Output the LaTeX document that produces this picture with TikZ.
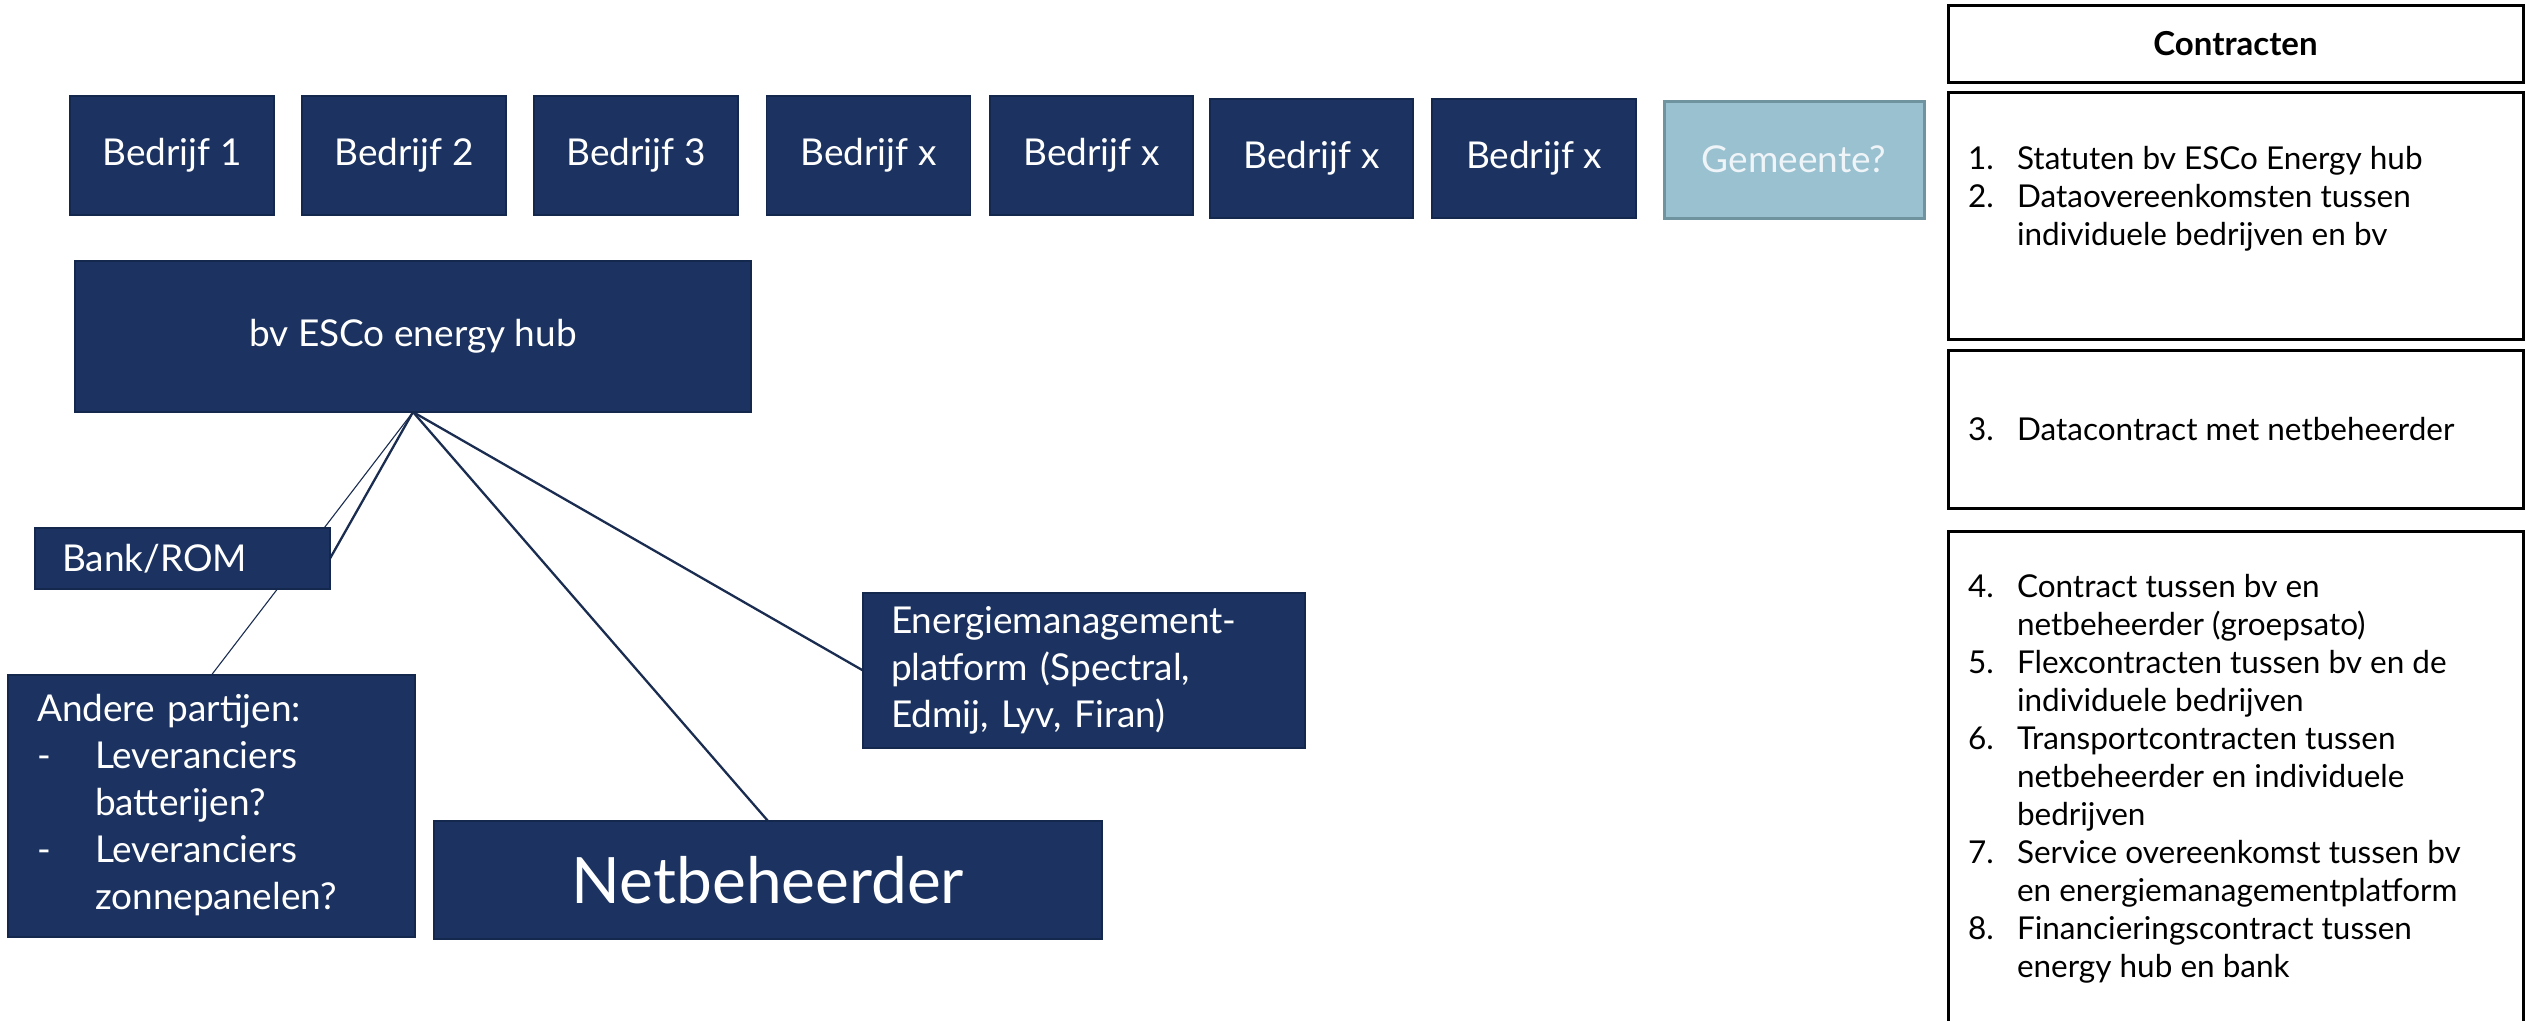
\documentclass[tikz,border=0pt]{standalone}
\usepackage{fontspec}
\setmainfont{Lato}
\usetikzlibrary{backgrounds}
\definecolor{navy}{HTML}{1C3361}
\definecolor{navyedge}{HTML}{14284E}
\definecolor{gem}{HTML}{99C1D0}
\definecolor{gemedge}{HTML}{6F939F}
\definecolor{gemtext}{HTML}{EEF4F7}
\definecolor{linkc}{HTML}{1A2C50}
\begin{document}
\begin{tikzpicture}[x=1pt,y=-1pt,
  navybox/.style={draw=navyedge, line width=1.5pt, fill=navy, text=white, inner sep=0pt, outer sep=0pt, font=\fontsize{37}{47}\selectfont},
  comp/.style={navybox, minimum width=204pt, minimum height=119pt},
  gemstyle/.style={draw=gemedge, line width=3pt, fill=gem, text=gemtext, inner sep=0pt, outer sep=0pt, minimum width=260pt, minimum height=117pt, font=\fontsize{37}{47}\selectfont},
  cbox/.style={draw=black, line width=3pt, inner sep=0pt, outer sep=0pt, minimum width=575pt},
  listtxt/.style={inner sep=0pt, outer sep=0pt, anchor=base west, font=\fontsize{31.5}{38}\selectfont},
  link/.style={draw=linkc, line width=2.3pt},
  thinlink/.style={draw=linkc, line width=1.1pt}
]
\useasboundingbox (0,0) rectangle (2526,1020);

% top row
\node[comp] (b1) at (172,155.5) {Bedrijf 1};
\node[comp] (b2) at (404,155.5) {Bedrijf 2};
\node[comp] (b3) at (636,155.5) {Bedrijf 3};
\node[comp] (b4) at (868.5,155.5) {Bedrijf x};
\node[comp, minimum width=203pt] (b5) at (1091.5,155.5) {Bedrijf x};
\node[comp, minimum width=203pt] (b6) at (1311.5,158.5) {Bedrijf x};
\node[comp] (b7) at (1534,158.5) {Bedrijf x};
\node[gemstyle] (gem) at (1794,159.5) {Gemeente?};

% hub and partners
\node[navybox, minimum width=676pt, minimum height=151pt] (esco) at (413,336.5) {bv ESCo energy hub};
\node[navybox, minimum height=61pt, text width=241pt, inner xsep=27pt, align=left] (bank) at (182.5,558.5) {Bank/ROM};
\node[navybox, minimum height=262pt, text width=349pt, inner xsep=29pt, align=left] (andere) at (211.5,806)
  {\begin{tabular}{@{}p{58pt}@{}l@{}}\multicolumn{2}{@{}l@{}}{Andere partijen:}\\-&Leveranciers\\&batterijen?\\-&Leveranciers\\&zonnepanelen?\end{tabular}};
\node[navybox, minimum width=668pt, minimum height=118pt, font=\fontsize{64}{72}\selectfont] (net) at (768,880) {Netbeheerder};
\node[navybox, minimum height=155pt, text width=386pt, inner xsep=28pt, align=left] (energie) at (1084,670.5)
  {Energiemanagement-\\platform (Spectral,\\Edmij, Lyv, Firan)};

\coordinate (hub) at (esco.south);
\begin{pgfonlayer}{background}
  \draw[thinlink] (hub) -- (andere.north);
  \draw[link] (hub) -- (bank.east);
  \draw[link] (hub) -- (net.north);
  \draw[link] (hub) -- (energie.west);
\end{pgfonlayer}

% contracts column
\node[cbox, minimum height=77pt, font=\fontsize{33}{38}\selectfont\bfseries] (c0) at (2235.5,43.5) {Contracten};
\node[cbox, minimum height=247pt] (c1) at (2235.5,215.5) {};
\node[cbox, minimum height=158pt] (c2) at (2235.5,429) {};
\node[cbox, minimum height=509pt] (c3) at (2235.5,785.5) {};

\node[listtxt] (t1) at (1968,169) {\begin{tabular}[t]{@{}p{49pt}@{}l@{}}1.&Statuten bv ESCo Energy hub\\2.&Dataovereenkomsten tussen\\&individuele bedrijven en bv\end{tabular}};
\node[listtxt] (t2) at (1968,440) {\begin{tabular}[t]{@{}p{49pt}@{}l@{}}3.&Datacontract met netbeheerder\end{tabular}};
\node[listtxt] (t3) at (1968,597) {\begin{tabular}[t]{@{}p{49pt}@{}l@{}}4.&Contract tussen bv en\\&netbeheerder (groepsato)\\5.&Flexcontracten tussen bv en de\\&individuele bedrijven\\6.&Transportcontracten tussen\\&netbeheerder en individuele\\&bedrijven\\7.&Service overeenkomst tussen bv\\&en energiemanagementplatform\\8.&Financieringscontract tussen\\&energy hub en bank\end{tabular}};
\end{tikzpicture}
\end{document}
